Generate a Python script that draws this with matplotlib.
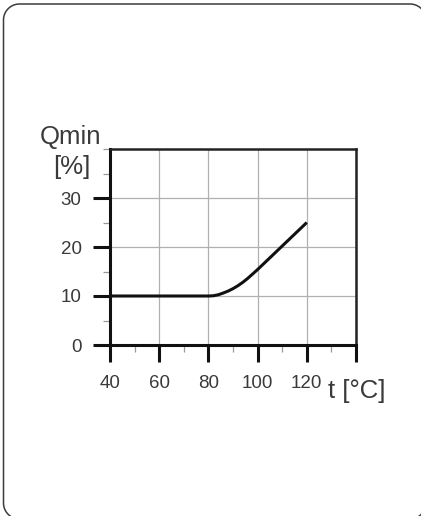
import matplotlib
matplotlib.use("Agg")
import numpy as np
import matplotlib.pyplot as plt
from matplotlib.lines import Line2D
from matplotlib.transforms import Affine2D
from matplotlib.ticker import MultipleLocator

# Qmin curve
t_vals = [40, 60, 80, 82, 84, 86, 88, 90, 92, 94, 96, 98, 100, 105, 110, 115, 120]
q_vals = [10, 10, 10, 10.05, 10.25, 10.6, 11.0, 11.5, 12.1, 12.8, 13.6, 14.5, 15.4, 17.8, 20.2, 22.6, 25.0]

x_ticks = [40, 60, 80, 100, 120, 140]
x_labels = ["40", "60", "80", "100", "120", ""]
y_ticks = [0, 10, 20, 30]
y_labels = ["0", "10", "20", "30"]

plt.rcParams['font.family'] = ['Liberation Sans', 'DejaVu Sans']
txt = '#3a3a3a'

W, H = 421, 516
fig = plt.figure(figsize=(W / 100, H / 100), dpi=100)


def rounded_frame(x0, y0, x1, y1, r, n=20):
    # polyline of a rounded rectangle, pixel units, origin bottom-left
    xs, ys = [], []
    corners = [(x1 - r, y1 - r, 0), (x0 + r, y1 - r, 90),
               (x0 + r, y0 + r, 180), (x1 - r, y0 + r, 270)]
    for cx, cy, a0 in corners:
        a = np.radians(np.linspace(a0, a0 + 90, n))
        xs.extend(cx + r * np.cos(a))
        ys.extend(cy + r * np.sin(a))
    xs.append(xs[0])
    ys.append(ys[0])
    return xs, ys


px = Affine2D().scale(1.0 / W, 1.0 / H) + fig.transFigure
fx, fy = rounded_frame(3.5, -3, 426, H - 4, 16)
fig.add_artist(Line2D(fx, fy, transform=px, color='#3c3c3c', linewidth=1.1))

ax = fig.add_axes([110 / W, (H - 345) / H, 246 / W, 196 / H])
ax.plot(t_vals, q_vals, color='#111111', linewidth=2.2,
        solid_capstyle='butt', solid_joinstyle='round', zorder=3)

ax.set_xlim(40, 140)
ax.set_ylim(0, 40)
ax.set_xticks(x_ticks)
ax.set_xticklabels(x_labels)
ax.set_yticks(y_ticks)
ax.set_yticklabels(y_labels)
ax.xaxis.set_minor_locator(MultipleLocator(10))
ax.yaxis.set_minor_locator(MultipleLocator(5))

ax.grid(True, which='major', color='#b0b0b0', linewidth=0.9)
ax.set_axisbelow(True)
for s in ['left', 'bottom']:
    ax.spines[s].set_linewidth(2.2)
    ax.spines[s].set_color('#111111')
for s in ['top', 'right']:
    ax.spines[s].set_linewidth(1.8)
    ax.spines[s].set_color('#222222')

ax.tick_params(axis='both', which='major', direction='out', length=12.5,
               width=2.2, color='#111111', labelsize=13.5, labelcolor=txt)
ax.tick_params(axis='y', which='major', pad=8)
ax.tick_params(axis='x', which='major', pad=9)
ax.tick_params(axis='both', which='minor', direction='out', length=5,
               width=0.9, color='#999999')

fig.text(40 / W, (H - 144) / H, "Qmin", fontsize=18.5, color=txt,
         ha='left', va='baseline')
fig.text(53 / W, (H - 167) / H, "[%]", fontsize=18.5, color=txt,
         ha='left', va='center')
fig.text(328 / W, (H - 398) / H, "t [°C]", fontsize=18.5, color=txt,
         ha='left', va='baseline')

fig.savefig("out.png", dpi=100)
